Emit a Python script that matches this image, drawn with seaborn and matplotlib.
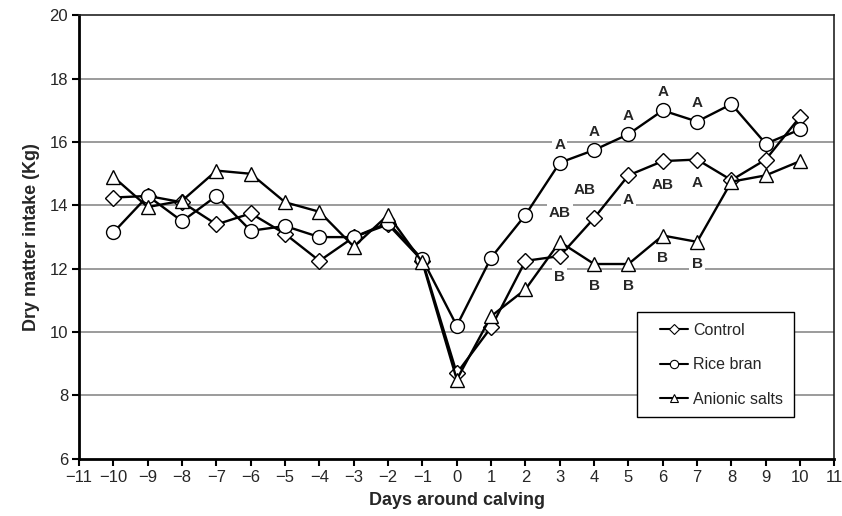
import pandas as pd
import seaborn as sns
import matplotlib.pyplot as plt
from matplotlib.lines import Line2D
from matplotlib.legend_handler import HandlerLine2D

# dados
dias = [-10, -9, -8, -7, -6, -5, -4, -3, -2, -1, 0, 1, 2, 3, 4, 5, 6, 7, 8, 9, 10]
control = [14.25, 14.3, 14.1, 13.4, 13.75, 13.1, 12.25, 13.0, 13.4, 12.25, 8.7,
           10.15, 12.25, 12.4, 13.6, 14.95, 15.4, 15.45, 14.8, 15.45, 16.8]
rice_bran = [13.15, 14.3, 13.5, 14.3, 13.2, 13.35, 13.0, 13.0, 13.45, 12.3, 10.2,
             12.35, 13.7, 15.35, 15.75, 16.25, 17.0, 16.65, 17.2, 15.95, 16.4]
anionic = [14.9, 13.95, 14.15, 15.1, 15.0, 14.1, 13.8, 12.7, 13.7, 12.2, 8.5,
           10.5, 11.35, 12.85, 12.15, 12.15, 13.05, 12.85, 14.75, 14.95, 15.4]

grupos = ['Control', 'Rice bran', 'Anionic salts']

# letras de significancia (dias 3 a 7)
dias_letras = [3, 4, 5, 6, 7]
letras_rice = ['A', 'A', 'A', 'A', 'A']
letras_control = ['AB', 'AB', 'A', 'AB', 'A']
letras_anionic = ['B', 'B', 'B', 'B', 'B']

df = pd.DataFrame({
    'Dia': dias * 3,
    'DMI': control + rice_bran + anionic,
    'Grupo': [g for g in grupos for _ in dias],
})

sns.set_theme(style='white')
plt.rcParams['font.family'] = ['Liberation Sans', 'DejaVu Sans']

fig = plt.figure(figsize=(8.42, 5.16), dpi=100)
ax = fig.add_axes([0.094, 0.111, 0.897, 0.859])

for y in range(8, 20, 2):
    ax.axhline(y, color='#8a8a8a', linewidth=1.2, zorder=0)

marcadores = {'Control': 'D', 'Rice bran': 'o', 'Anionic salts': '^'}
tamanhos = {'Control': 8, 'Rice bran': 10, 'Anionic salts': 10.5}

for g in grupos:
    sub = df[df['Grupo'] == g]
    sns.lineplot(data=sub, x='Dia', y='DMI', ax=ax, color='black',
                 linewidth=1.7, marker=marcadores[g], markersize=tamanhos[g],
                 markerfacecolor='white', markeredgecolor='black',
                 markeredgewidth=1, legend=False, zorder=3)

caixa = dict(facecolor='white', edgecolor='none', pad=1.5)


def escrever(letras, valores, deslocamentos, dxs=None):
    dxs = dxs or [0] * len(letras)
    for d, txt, dy, dx in zip(dias_letras, letras, deslocamentos, dxs):
        v = valores[dias.index(d)]
        ax.annotate(txt, (d, v), xytext=(dx, dy), textcoords='offset points',
                    ha='center', va='center', fontsize=11, fontweight='bold',
                    bbox=caixa, zorder=2)


escrever(letras_rice, rice_bran, [13, 13, 13, 13, 13])
escrever(letras_control, control, [31, 20, -18, -17, -17], [0, -7, 0, 0, 0])
escrever(letras_anionic, anionic, [-25, -16, -16, -16, -16])

ax.set_xlim(-11, 11)
ax.set_ylim(6, 20)
ax.set_xticks(range(-11, 12))
ax.set_yticks(range(6, 21, 2))
ax.tick_params(axis='both', direction='out', length=5, width=1.5, color='black',
               labelsize=12, pad=3, left=True, bottom=True)
ax.set_xlabel('Days around calving', fontsize=13, fontweight='bold', labelpad=5)
ax.set_ylabel('Dry matter intake (Kg)', fontsize=13, fontweight='bold', labelpad=7)

for lado in ['left', 'bottom']:
    ax.spines[lado].set_linewidth(2)
    ax.spines[lado].set_color('black')
for lado in ['top', 'right']:
    ax.spines[lado].set_linewidth(1.2)
    ax.spines[lado].set_color('#222222')

handles = [Line2D([], [], color='black', linewidth=1.5, marker=marcadores[g],
                  markersize=6 if g != 'Control' else 5,
                  markerfacecolor='white', markeredgecolor='black', markeredgewidth=0.8)
           for g in grupos]
leg = ax.legend(handles, grupos, loc='lower left', bbox_to_anchor=(0.739, 0.094),
                fontsize=11.5, frameon=True, fancybox=False, edgecolor='black',
                framealpha=1, handlelength=2.5, labelspacing=1.22, borderpad=0.65,
                handletextpad=0.35, borderaxespad=0,
                handler_map={Line2D: HandlerLine2D(xpad=0.8)})
leg.get_frame().set_linewidth(1)

fig.savefig('out.png', dpi=100)
